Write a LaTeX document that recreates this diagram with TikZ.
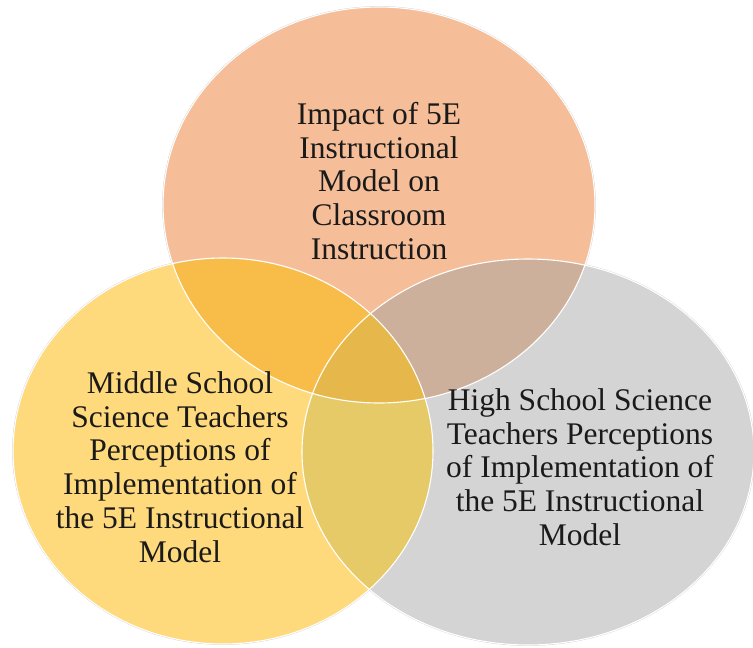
\documentclass[tikz,border=0pt]{standalone}
\usepackage{fontspec}
\setmainfont{Liberation Serif}
\definecolor{cTop}{HTML}{F6BE98}
\definecolor{cLeft}{HTML}{FFDA7D}
\definecolor{cRight}{HTML}{D4D4D4}
\definecolor{cTL}{HTML}{F8BC48}
\definecolor{cTR}{HTML}{CDB09C}
\definecolor{cLR}{HTML}{E6CA68}
\definecolor{cAll}{HTML}{E6B84C}
\definecolor{cText}{HTML}{1A1A1A}
\def\Ta{(379,205) ellipse [x radius=216pt, y radius=198pt]}
\def\La{(223,451) ellipse [x radius=210pt, y radius=193pt]}
\def\Ra{(528,452) ellipse [x radius=226pt, y radius=193pt]}
\tikzset{
  halo/.style={draw=black!22, line width=1.6pt},
  rim/.style={draw=white, line width=1.1pt},
  label/.style={align=center, text=cText, inner sep=0pt,
    font=\fontsize{31.5}{33.7}\selectfont}
}
\begin{document}
\begin{tikzpicture}[x=1pt,y=-1pt]
\useasboundingbox (0,0) rectangle (753,648);
\fill[white] (0,0) rectangle (753,648);
% faint outer halo
\path[halo] \Ta;
\path[halo] \La;
\path[halo] \Ra;
% single regions
\fill[cTop] \Ta;
\fill[cLeft] \La;
\fill[cRight] \Ra;
% pairwise overlaps
\begin{scope}\clip \Ta; \fill[cTL] \La; \end{scope}
\begin{scope}\clip \Ta; \fill[cTR] \Ra; \end{scope}
\begin{scope}\clip \La; \fill[cLR] \Ra; \end{scope}
% triple overlap
\begin{scope}\clip \Ta; \clip \La; \fill[cAll] \Ra; \end{scope}
% white rims
\path[rim] \Ta;
\path[rim] \La;
\path[rim] \Ra;
% labels
\node[label] (impact) at (379,181) {Impact of 5E\\Instructional\\Model on\\Classroom\\Instruction};
\node[label] (middle) at (180,467) {Middle School\\Science Teachers\\Perceptions of\\Implementation of\\the 5E Instructional\\Model};
\node[label] (high) at (580,467) {High School Science\\Teachers Perceptions\\of Implementation of\\the 5E Instructional\\Model};
\end{tikzpicture}
\end{document}
